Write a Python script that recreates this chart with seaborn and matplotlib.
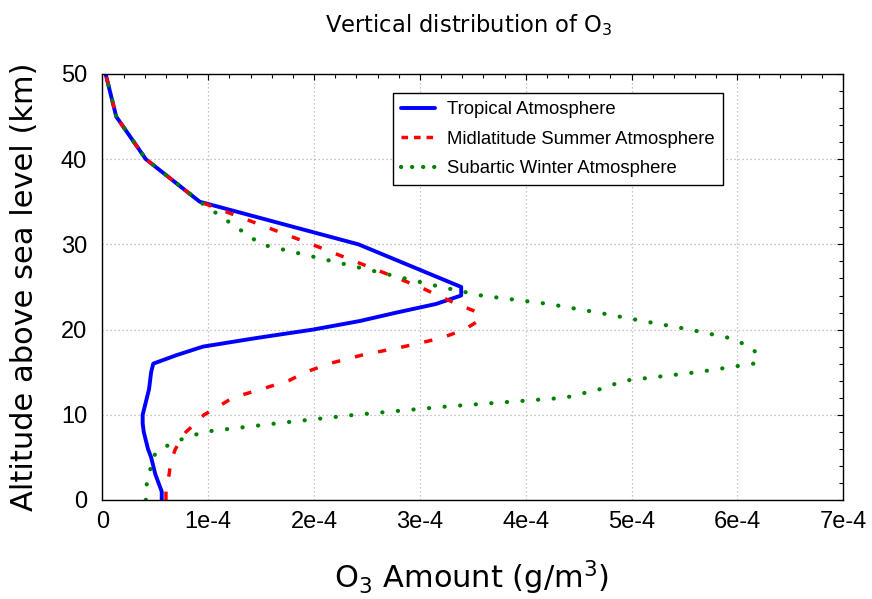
import numpy as np
import pandas as pd
import matplotlib
matplotlib.use("Agg")
import matplotlib.pyplot as plt
import seaborn as sns
from matplotlib.ticker import MultipleLocator

# ---------------- data ----------------
altitude_km = [0, 1, 2, 3, 4, 5, 6, 7, 8, 9, 10, 11, 12, 13, 14, 15, 16, 17,
               18, 19, 20, 21, 22, 23, 24, 25, 30, 35, 40, 45, 50]

tropical = [5.6e-5, 5.6e-5, 5.3e-5, 5.0e-5, 4.8e-5, 4.6e-5, 4.3e-5, 4.1e-5,
            3.9e-5, 3.8e-5, 3.8e-5, 4.0e-5, 4.2e-5, 4.4e-5, 4.5e-5, 4.6e-5,
            4.8e-5, 7.0e-5, 9.5e-5, 1.45e-4, 1.99e-4, 2.43e-4, 2.78e-4,
            3.15e-4, 3.39e-4, 3.39e-4, 2.42e-4, 9.2e-5, 4.1e-5, 1.3e-5, 3.0e-6]

midlat_summer = [6.0e-5, 6.0e-5, 6.1e-5, 6.3e-5, 6.4e-5, 6.6e-5, 6.9e-5,
                 7.4e-5, 7.9e-5, 8.8e-5, 9.6e-5, 1.1e-4, 1.23e-4, 1.5e-4,
                 1.76e-4, 1.92e-4, 2.14e-4, 2.45e-4, 2.85e-4, 3.2e-4, 3.42e-4,
                 3.55e-4, 3.55e-4, 3.35e-4, 3.17e-4, 3.0e-4, 1.98e-4, 9.2e-5,
                 4.1e-5, 1.3e-5, 3.0e-6]

subarctic_winter = [4.1e-5, 4.1e-5, 4.2e-5, 4.4e-5, 4.6e-5, 4.7e-5, 5.5e-5,
                    7.2e-5, 9.6e-5, 1.65e-4, 2.39e-4, 3.28e-4, 4.37e-4, 4.7e-4,
                    4.93e-4, 5.62e-4, 6.15e-4, 6.2e-4, 6.12e-4, 5.93e-4,
                    5.55e-4, 5.11e-4, 4.68e-4, 4.22e-4, 3.58e-4, 3.2e-4,
                    1.5e-4, 9.2e-5, 4.1e-5, 1.3e-5, 3.0e-6]

series_names = ["Tropical Atmosphere", "Midlatitude Summer Atmosphere",
                "Subartic Winter Atmosphere"]

x_tick_values = [0, 1e-4, 2e-4, 3e-4, 4e-4, 5e-4, 6e-4, 7e-4]
x_tick_labels = ["0", "1e-4", "2e-4", "3e-4", "4e-4", "5e-4", "6e-4", "7e-4"]
y_tick_values = [0, 10, 20, 30, 40, 50]

title_text = r"Vertical distribution of O$_3$"
x_label = r"O$_3$ Amount (g/m$^3$)"
y_label = "Altitude above sea level (km)"

# ---------------- style ----------------
sns.set_theme(style="white")
plt.rcParams["font.family"] = ["Liberation Sans", "DejaVu Sans"]
plt.rcParams["mathtext.default"] = "regular"
plt.rcParams["text.color"] = "black"
plt.rcParams["axes.labelcolor"] = "black"
plt.rcParams["xtick.color"] = "black"
plt.rcParams["ytick.color"] = "black"
plt.rcParams["axes.edgecolor"] = "black"

fig = plt.figure(figsize=(8.72, 5.99), dpi=100)
ax = fig.add_axes([0.1175, 0.1653, 0.8495, 0.7112])

line_styles = [
    dict(color="#0000ff", linewidth=2.8, linestyle="-"),
    dict(color="#ff0000", linewidth=2.5, linestyle=(0, (2.4, 4.4))),
    dict(color="#008000", linewidth=3.0, linestyle=(0, (0.05, 3.7)),
         dash_capstyle="round"),
]

for name, vals, st in zip(series_names,
                          [tropical, midlat_summer, subarctic_winter],
                          line_styles):
    df = pd.DataFrame({"amount": vals, "alt": altitude_km})
    sns.lineplot(data=df, x="amount", y="alt", sort=False, estimator=None,
                 ax=ax, label=name, **st)

ax.set_xlim(0, 7e-4)
ax.set_ylim(0, 50)
ax.set_xticks(x_tick_values)
ax.set_xticklabels(x_tick_labels)
ax.set_yticks(y_tick_values)
ax.set_yticklabels([str(v) for v in y_tick_values])
ax.xaxis.set_minor_locator(MultipleLocator(2e-5))
ax.yaxis.set_minor_locator(MultipleLocator(2))
ax.tick_params(which="both", direction="in", top=True, right=True,
               color="black", width=0.8)
ax.tick_params(which="major", length=4)
ax.tick_params(which="minor", length=3)
ax.tick_params(axis="x", which="major", labelsize=17, pad=8)
ax.tick_params(axis="y", which="major", labelsize=17, pad=11)

ax.set_axisbelow(True)
ax.grid(True, which="major", linestyle=(0, (1, 2.2)), color="#b4b4b4",
        linewidth=0.9)
for s in ax.spines.values():
    s.set_visible(True)
    s.set_color("black")
    s.set_linewidth(1.0)

label_font = dict(family=["DejaVu Sans"], fontsize=22)
ax.set_xlabel(x_label, **label_font)
ax.xaxis.label.set_va("baseline")
ax.xaxis.set_label_coords(0.498, (500 - 588) / 426)
ax.set_ylabel(y_label, **label_font)
ax.yaxis.label.set_va("baseline")
ax.yaxis.set_label_coords((33 - 102.5) / 740.8, 0.5)

fig.text(468.5 / 872, 1 - 32 / 599, title_text, ha="center", va="baseline",
         fontsize=16.3, family=["DejaVu Sans"])

leg = ax.legend(loc="upper left", bbox_to_anchor=(0.392, 0.956),
                fontsize=13.3, frameon=True, fancybox=False,
                edgecolor="black", framealpha=1, borderpad=0.45,
                labelspacing=0.68, handlelength=1.85, handletextpad=0.65,
                borderaxespad=0)
leg.get_frame().set_linewidth(1.0)
leg_lines = leg.get_lines()
if len(leg_lines) == 3:
    leg_lines[1].set_linestyle((0, (1.9, 1.7)))
    leg_lines[2].set_linestyle((0, (0.05, 2.6)))
    leg_lines[2].set_dash_capstyle("round")

fig.savefig("out.png", dpi=100)
